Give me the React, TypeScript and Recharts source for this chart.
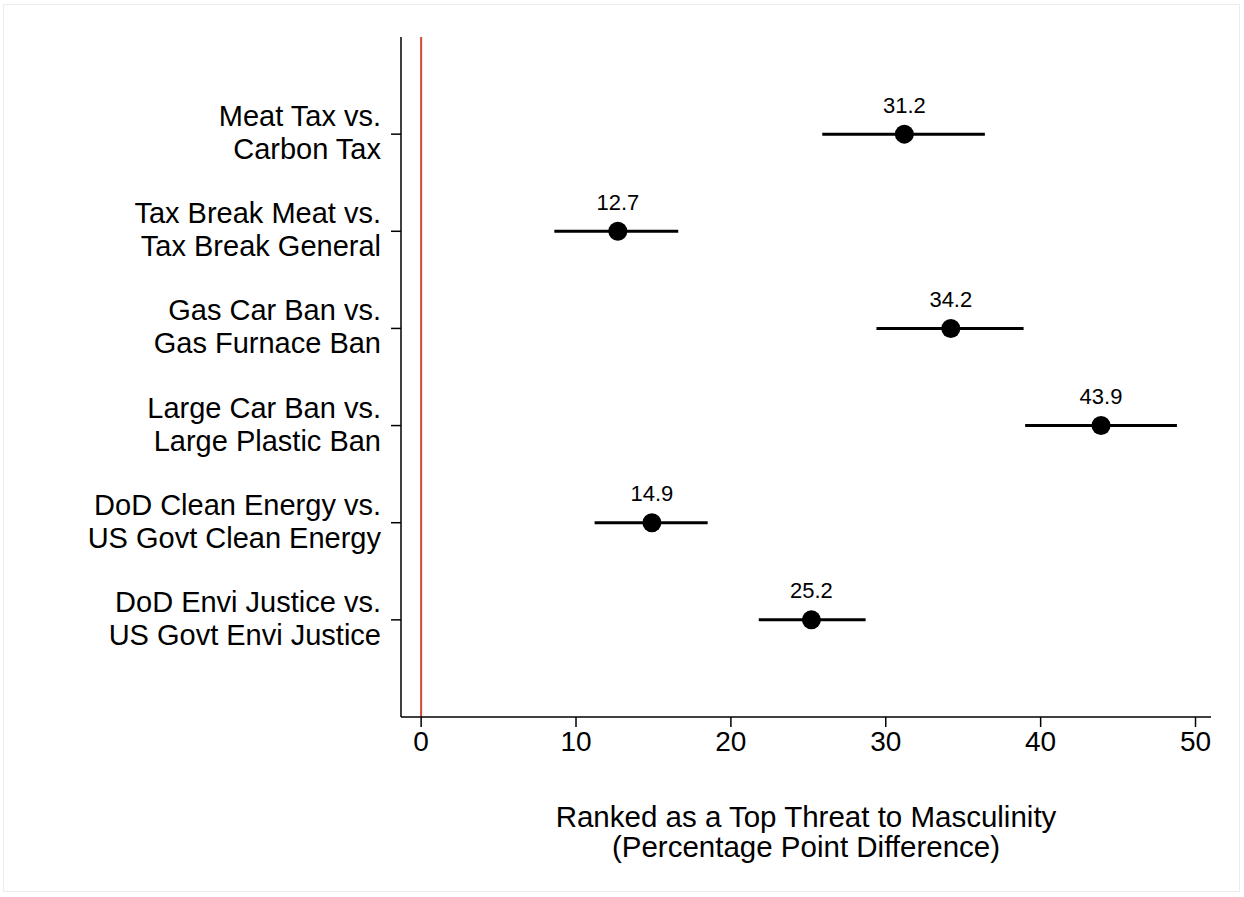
import React from "react";
import {
  ScatterChart,
  Scatter,
  XAxis,
  YAxis,
  ErrorBar,
  ReferenceLine,
  LabelList,
} from "recharts";

const categories = [
  "Meat Tax vs.|Carbon Tax",
  "Tax Break Meat vs.|Tax Break General",
  "Gas Car Ban vs.|Gas Furnace Ban",
  "Large Car Ban vs.|Large Plastic Ban",
  "DoD Clean Energy vs.|US Govt Clean Energy",
  "DoD Envi Justice vs.|US Govt Envi Justice",
];
const estimates = [31.2, 12.7, 34.2, 43.9, 14.9, 25.2];
const lowerCI = [25.9, 8.6, 29.4, 39.0, 11.2, 21.8];
const upperCI = [36.4, 16.6, 38.9, 48.8, 18.5, 28.7];
const xTicks = [0, 10, 20, 30, 40, 50];
const axisTitle = ["Ranked as a Top Threat to Masculinity", "(Percentage Point Difference)"];

const data = categories.map((c, i) => ({
  row: i + 1,
  est: estimates[i],
  err: [estimates[i] - lowerCI[i], upperCI[i] - estimates[i]],
  label: estimates[i].toFixed(1),
}));

const FONT = "'Liberation Sans', Arial, Helvetica, sans-serif";

const YTick = (props: any) => {
  const { x, y, payload } = props;
  const idx = Math.round(payload.value) - 1;
  const lines = (categories[idx] || "").split("|");
  return (
    <g>
      <text x={x - 8} y={y - 18} textAnchor="end" dominantBaseline="central" fontSize={29} fontFamily={FONT} fill="#000">
        {lines[0]}
      </text>
      <text x={x - 8} y={y + 15} textAnchor="end" dominantBaseline="central" fontSize={29} fontFamily={FONT} fill="#000">
        {lines[1]}
      </text>
    </g>
  );
};

const Dot = (props: any) => {
  const { cx, cy } = props;
  return <circle cx={cx} cy={cy} r={9.5} fill="#000" />;
};

const XTitle = (props: any) => {
  const { viewBox } = props;
  const cx = viewBox.x + viewBox.width / 2;
  const top = viewBox.y;
  return (
    <g>
      <text x={cx} y={top + 99} textAnchor="middle" dominantBaseline="central" fontSize={29.5} fontFamily={FONT} fill="#000">
        {axisTitle[0]}
      </text>
      <text x={cx} y={top + 129} textAnchor="middle" dominantBaseline="central" fontSize={29.5} fontFamily={FONT} fill="#000">
        {axisTitle[1]}
      </text>
    </g>
  );
};

export default function App() {
  return (
    <div style={{ position: "absolute", left: 0, top: 0, width: 1244, height: 897, background: "#fff" }}>
      <div
        style={{
          position: "absolute",
          left: 3,
          top: 4,
          width: 1237,
          height: 888,
          border: "1px solid #ececec",
          boxSizing: "border-box",
        }}
      />
      <div style={{ position: "absolute", left: 0, top: 0 }}>
        <ScatterChart width={1244} height={897} margin={{ top: 37, right: 33, bottom: 0, left: 0 }}>
          <XAxis
            type="number"
            dataKey="est"
            domain={[-1.3, 51]}
            ticks={xTicks}
            allowDataOverflow
            height={180}
            tickSize={10}
            tickMargin={4}
            axisLine={{ stroke: "#000", strokeWidth: 1.5 }}
            tickLine={{ stroke: "#000", strokeWidth: 1.5 }}
            tick={{ fill: "#000", fontSize: 28, fontFamily: FONT }}
            label={<XTitle />}
          />
          <YAxis
            type="number"
            dataKey="row"
            domain={[0, 7]}
            ticks={[1, 2, 3, 4, 5, 6]}
            reversed
            width={401}
            tickSize={10}
            axisLine={{ stroke: "#000", strokeWidth: 1.5 }}
            tickLine={{ stroke: "#000", strokeWidth: 1.5 }}
            tick={<YTick />}
          />
          <ReferenceLine x={0} stroke="#d0473a" strokeWidth={2} />
          <Scatter data={data} shape={<Dot />} isAnimationActive={false}>
            <ErrorBar dataKey="err" direction="x" width={0} stroke="#000" strokeWidth={3} />
            <LabelList dataKey="label" position="top" offset={17} fontSize={22} fontFamily={FONT} fill="#000" />
          </Scatter>
        </ScatterChart>
      </div>
    </div>
  );
}
